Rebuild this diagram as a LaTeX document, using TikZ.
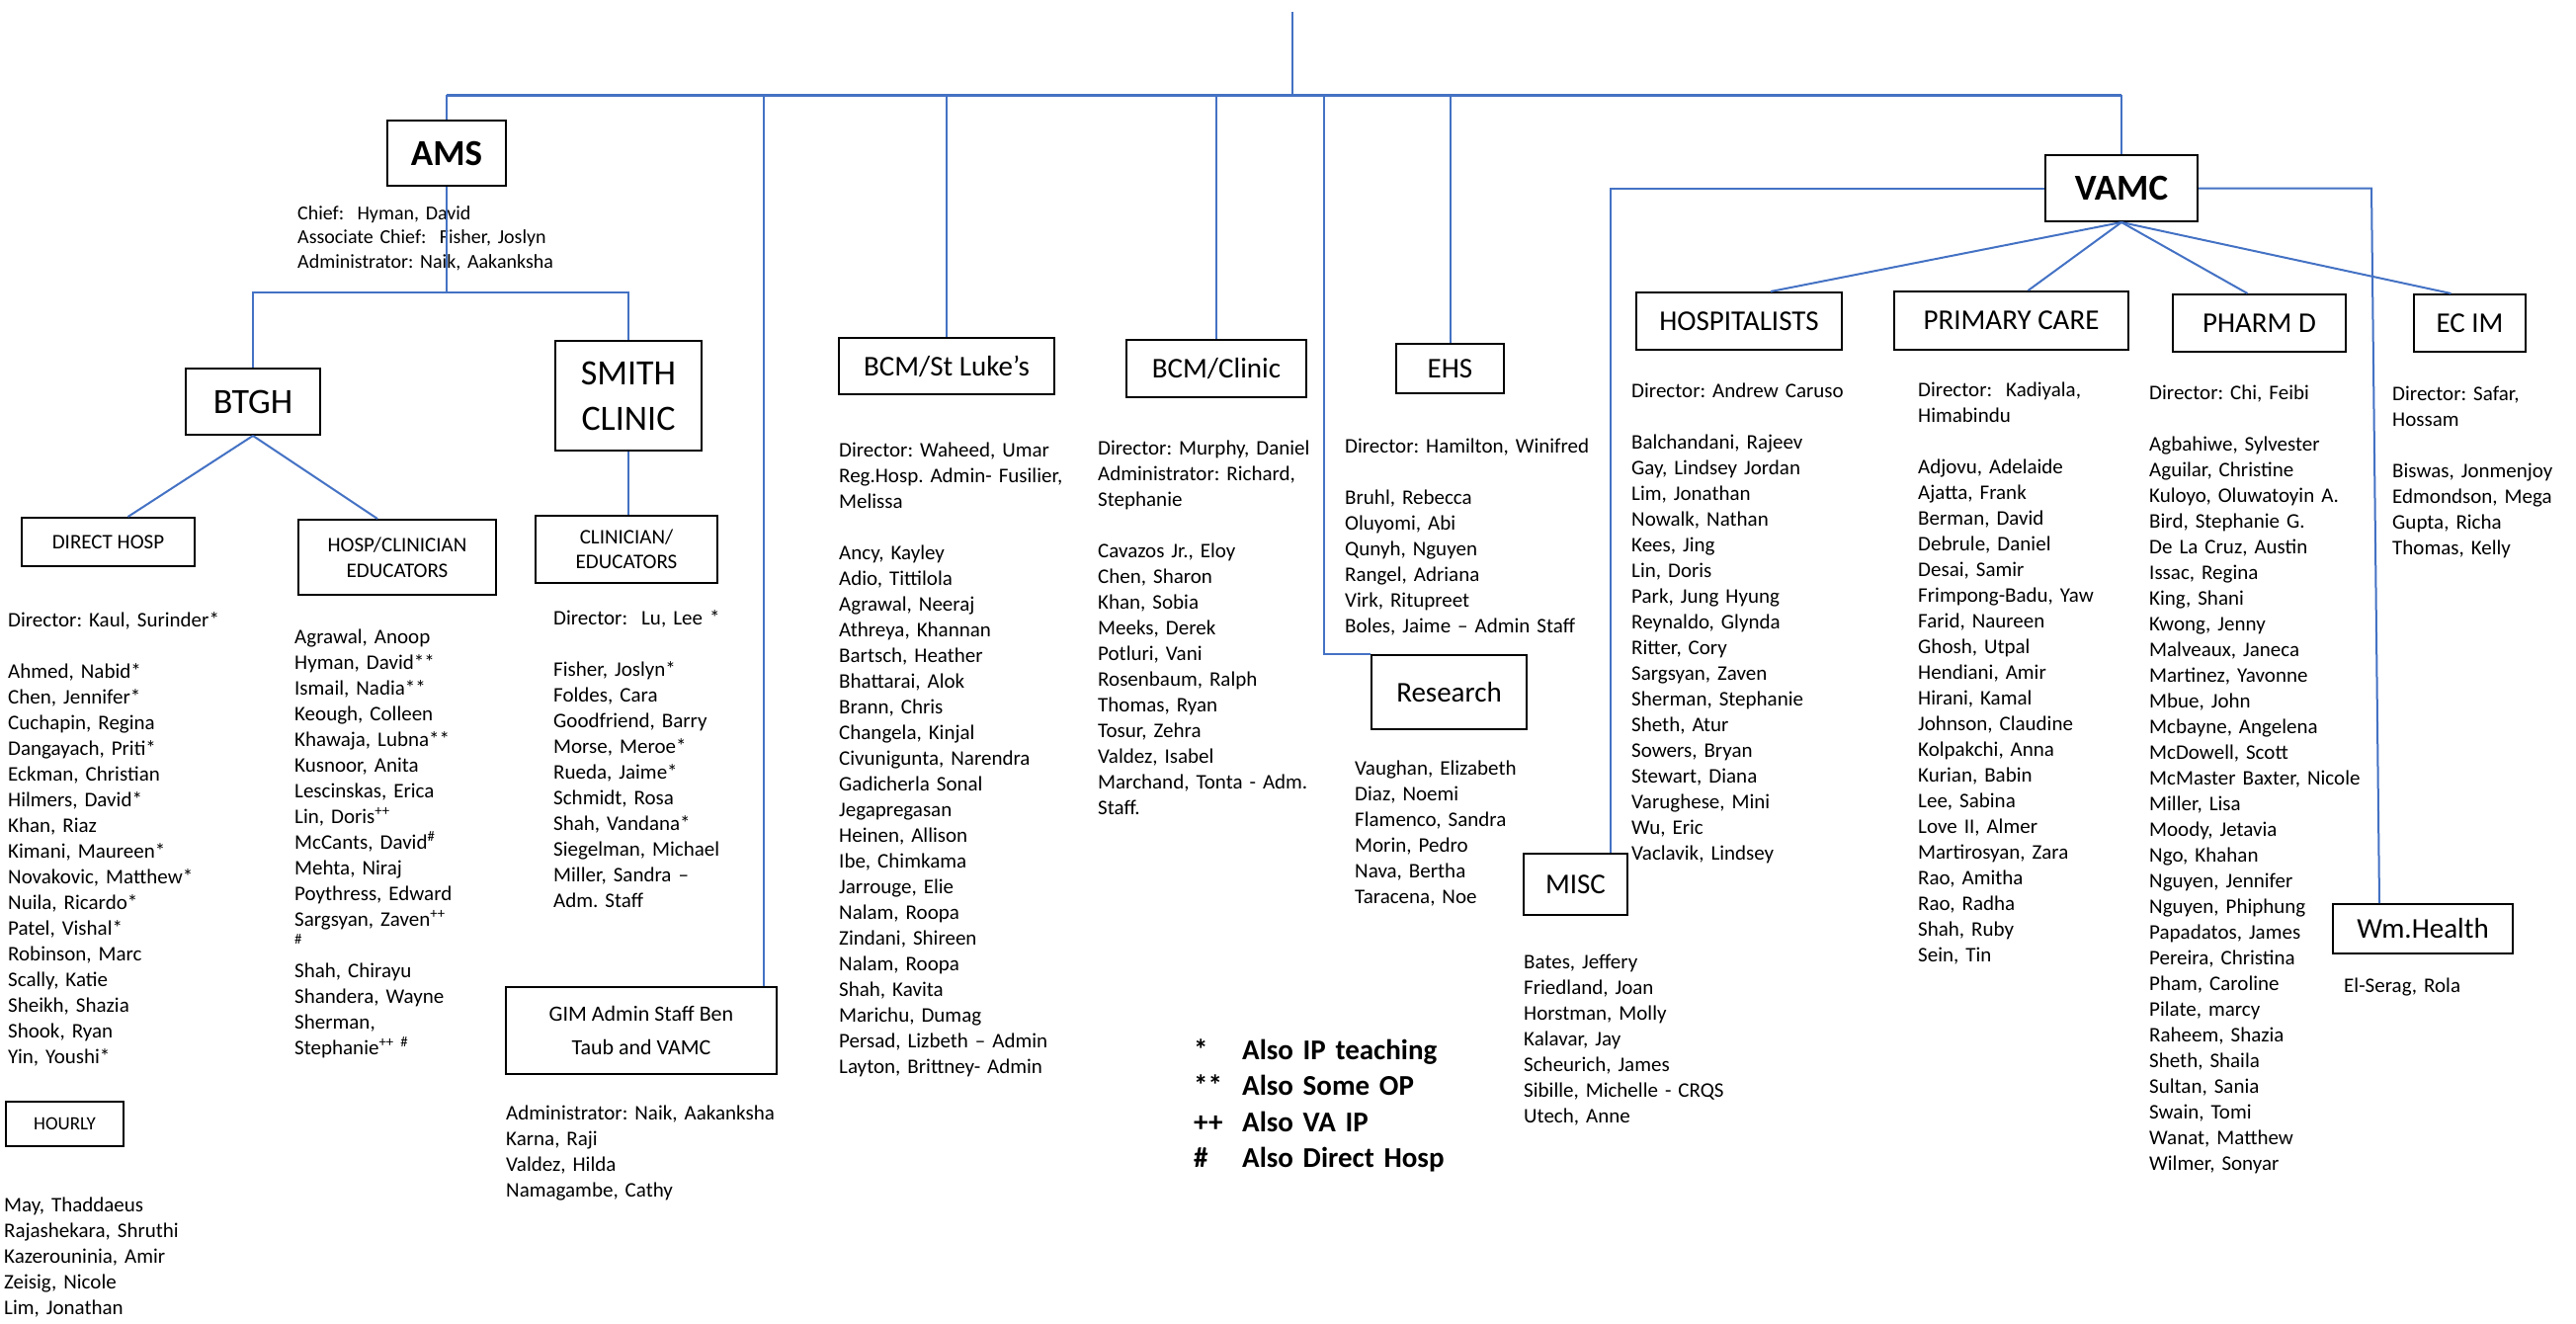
\documentclass[tikz,border=0pt]{standalone}
\usepackage{fontspec}
\setmainfont{Carlito}
\frenchspacing

\definecolor{linkblue}{RGB}{68,114,196}

\tikzset{
  unitbox/.style={rectangle, draw=black, line width=2pt, inner sep=2pt, align=center},
  link/.style={draw=linkblue, line width=2pt},
  toprail/.style={draw=linkblue, line width=3pt},
  namelist/.style={anchor=base west, inner sep=0pt, text width=330pt, align=left,
      font=\fontsize{21}{26}\selectfont},
  bigname/.style={font=\fontsize{29}{34}\selectfont},
  smallname/.style={font=\fontsize{21}{26}\selectfont},
}

\begin{document}
\begin{tikzpicture}[x=1pt, y=-1pt]
\useasboundingbox (0,0) rectangle (2607,1339);

% top of the chart
\coordinate (top) at (1308,12);
\coordinate (rail) at (0,96);
\coordinate (resx) at (1340,96);

% AMS side
\node[unitbox,
    font = \fontsize{37}{40}\selectfont\bfseries,
    minimum width = 120pt,
    minimum height = 66pt] (ams) at (452,155) {AMS};

\node[anchor = base west,
    inner sep = 0pt,
    align = left,
    text width = 300pt,
    font = \fontsize{20}{24.5}\selectfont] (amslead) at (301,222)
    {Chief:\ \ Hyman, David\\Associate Chief:\ \ Fisher, Joslyn\\Administrator: Naik, Aakanksha};

\coordinate (amsfork) at (452,296);

\node[unitbox,
    font = \fontsize{36}{40}\selectfont,
    minimum width = 136pt,
    minimum height = 67pt] (btgh) at (256,406.5) {BTGH};

\node[unitbox,
    font = \fontsize{36}{46}\selectfont,
    minimum width = 148pt,
    minimum height = 111pt] (smith) at (636,400.5) {SMITH\\CLINIC};

\node[unitbox, smallname,
    minimum width = 175pt,
    minimum height = 49pt] (directhosp) at (109.5,548.5) {DIRECT HOSP};

\node[unitbox, smallname,
    minimum width = 200pt,
    minimum height = 76pt] (hospclin) at (402,564) {HOSP/CLINICIAN\\EDUCATORS};

\node[unitbox,
    font = \fontsize{19}{23}\selectfont,
    minimum width = 119pt,
    minimum height = 45pt] (hourly) at (65.5,1137.5) {HOURLY};

\node[unitbox,
    font = \fontsize{21}{25}\selectfont,
    minimum width = 184pt,
    minimum height = 68pt] (clined) at (634,556) {CLINICIAN/\\EDUCATORS};

\node[unitbox,
    font = \fontsize{22}{34}\selectfont,
    minimum width = 274pt,
    minimum height = 88pt] (gim) at (649,1043) {GIM Admin Staff Ben\\Taub and VAMC};

% lists under BTGH and Smith
\node[namelist] (directlist) at (8,634)
    {Director: Kaul, Surinder*\\[26pt]
     Ahmed, Nabid*\\Chen, Jennifer*\\Cuchapin, Regina\\Dangayach, Priti*\\
     Eckman, Christian\\Hilmers, David*\\Khan, Riaz\\Kimani, Maureen*\\
     Novakovic, Matthew*\\Nuila, Ricardo*\\Patel, Vishal*\\Robinson, Marc\\
     Scally, Katie\\Sheikh, Shazia\\Shook, Ryan\\Yin, Youshi*};

\node[namelist] (hourlylist) at (4,1226)
    {May, Thaddaeus\\Rajashekara, Shruthi\\Kazerouninia, Amir\\Zeisig, Nicole\\Lim, Jonathan};

\node[namelist] (hospclinlist) at (298,651)
    {Agrawal, Anoop\\Hyman, David**\\Ismail, Nadia**\\Keough, Colleen\\
     Khawaja, Lubna**\\Kusnoor, Anita\\Lescinskas, Erica\\Lin, Doris\textsuperscript{++}\\
     McCants, David\textsuperscript{\#}\\Mehta, Niraj\\Poythress, Edward\\
     Sargsyan, Zaven\textsuperscript{++}\\\textsuperscript{\#}\\
     Shah, Chirayu\\Shandera, Wayne\\Sherman,\\Stephanie\textsuperscript{++ \#}};

\node[namelist] (smithlist) at (560,632)
    {Director:\ \ Lu, Lee *\\[26pt]
     Fisher, Joslyn*\\Foldes, Cara\\Goodfriend, Barry\\Morse, Meroe*\\
     Rueda, Jaime*\\Schmidt, Rosa\\Shah, Vandana*\\Siegelman, Michael\\
     Miller, Sandra --\\Adm. Staff};

\node[namelist] (gimlist) at (512,1133)
    {Administrator: Naik, Aakanksha\\Karna, Raji\\Valdez, Hilda\\Namagambe, Cathy};

% BCM, EHS and research
\node[unitbox, bigname,
    minimum width = 218pt,
    minimum height = 57pt] (bcmsl) at (958,370.5) {BCM/St Luke’s};

\node[unitbox, bigname,
    minimum width = 182pt,
    minimum height = 58pt] (bcmclinic) at (1231,373) {BCM/Clinic};

\node[unitbox, bigname,
    minimum width = 109pt,
    minimum height = 50pt] (ehs) at (1467.5,373) {EHS};

\node[unitbox, bigname,
    minimum width = 157pt,
    minimum height = 75pt] (research) at (1466.5,700.5) {Research};

\node[namelist] (bcmsllist) at (849,462)
    {Director: Waheed, Umar\\Reg.Hosp. Admin- Fusilier,\\Melissa\\[26pt]
     Ancy, Kayley\\Adio, Tittilola\\Agrawal, Neeraj\\Athreya, Khannan\\
     Bartsch, Heather\\Bhattarai, Alok\\Brann, Chris\\Changela, Kinjal\\
     Civunigunta, Narendra\\Gadicherla Sonal\\Jegapregasan\\Heinen, Allison\\
     Ibe, Chimkama\\Jarrouge, Elie\\Nalam, Roopa\\Zindani, Shireen\\
     Nalam, Roopa\\Shah, Kavita\\Marichu, Dumag\\Persad, Lizbeth -- Admin\\
     Layton, Brittney- Admin};

\node[namelist] (bcmclist) at (1111,460)
    {Director: Murphy, Daniel\\Administrator: Richard,\\Stephanie\\[26pt]
     Cavazos Jr., Eloy\\Chen, Sharon\\Khan, Sobia\\Meeks, Derek\\Potluri, Vani\\
     Rosenbaum, Ralph\\Thomas, Ryan\\Tosur, Zehra\\Valdez, Isabel\\
     Marchand, Tonta - Adm.\\Staff.};

\node[namelist] (ehslist) at (1361,458)
    {Director: Hamilton, Winifred\\[26pt]
     Bruhl, Rebecca\\Oluyomi, Abi\\Qunyh, Nguyen\\Rangel, Adriana\\
     Virk, Ritupreet\\Boles, Jaime -- Admin Staff};

\node[namelist] (reslist) at (1371,784)
    {Vaughan, Elizabeth\\Diaz, Noemi\\Flamenco, Sandra\\Morin, Pedro\\
     Nava, Bertha\\Taracena, Noe};

% VAMC side
\node[unitbox,
    font = \fontsize{37}{40}\selectfont\bfseries,
    minimum width = 154pt,
    minimum height = 67pt] (vamc) at (2147,190.5) {VAMC};

\node[unitbox, bigname,
    minimum width = 208pt,
    minimum height = 58pt] (hospitalists) at (1760,325) {HOSPITALISTS};

\node[unitbox, bigname,
    minimum width = 237pt,
    minimum height = 59pt] (primary) at (2035.5,324.5) {PRIMARY CARE};

\node[unitbox, bigname,
    minimum width = 175pt,
    minimum height = 58pt] (pharmd) at (2286.5,327) {PHARM D};

\node[unitbox, bigname,
    minimum width = 113pt,
    minimum height = 58pt] (ecim) at (2499.5,327) {EC IM};

\node[unitbox, bigname,
    minimum width = 105pt,
    minimum height = 62pt] (misc) at (1594.5,895) {MISC};

\node[unitbox, bigname,
    minimum width = 182pt,
    minimum height = 50pt] (wmhealth) at (2452,940) {Wm.Health};

\node[namelist] (hosplist) at (1651,402)
    {Director: Andrew Caruso\\[26pt]
     Balchandani, Rajeev\\Gay, Lindsey Jordan\\Lim, Jonathan\\Nowalk, Nathan\\
     Kees, Jing\\Lin, Doris\\Park, Jung Hyung\\Reynaldo, Glynda\\Ritter, Cory\\
     Sargsyan, Zaven\\Sherman, Stephanie\\Sheth, Atur\\Sowers, Bryan\\
     Stewart, Diana\\Varughese, Mini\\Wu, Eric\\Vaclavik, Lindsey};

\node[namelist] (primlist) at (1941,401)
    {Director:\ \ Kadiyala,\\Himabindu\\[26pt]
     Adjovu, Adelaide\\Ajatta, Frank\\Berman, David\\Debrule, Daniel\\
     Desai, Samir\\Frimpong-Badu, Yaw\\Farid, Naureen\\Ghosh, Utpal\\
     Hendiani, Amir\\Hirani, Kamal\\Johnson, Claudine\\Kolpakchi, Anna\\
     Kurian, Babin\\Lee, Sabina\\Love II, Almer\\Martirosyan, Zara\\
     Rao, Amitha\\Rao, Radha\\Shah, Ruby\\Sein, Tin};

\node[namelist] (pharmlist) at (2175,404)
    {Director: Chi, Feibi\\[26pt]
     Agbahiwe, Sylvester\\Aguilar, Christine\\Kuloyo, Oluwatoyin A.\\
     Bird, Stephanie G.\\De La Cruz, Austin\\Issac, Regina\\King, Shani\\
     Kwong, Jenny\\Malveaux, Janeca\\Martinez, Yavonne\\Mbue, John\\
     Mcbayne, Angelena\\McDowell, Scott\\McMaster Baxter, Nicole\\
     Miller, Lisa\\Moody, Jetavia\\Ngo, Khahan\\Nguyen, Jennifer\\
     Nguyen, Phiphung\\Papadatos, James\\Pereira, Christina\\Pham, Caroline\\
     Pilate, marcy\\Raheem, Shazia\\Sheth, Shaila\\Sultan, Sania\\
     Swain, Tomi\\Wanat, Matthew\\Wilmer, Sonyar};

\node[namelist] (ecimlist) at (2421,405)
    {Director: Safar,\\Hossam\\[26pt]
     Biswas, Jonmenjoy\\Edmondson, Mega\\Gupta, Richa\\Thomas, Kelly};

\node[namelist] (misclist) at (1542,980)
    {Bates, Jeffery\\Friedland, Joan\\Horstman, Molly\\Kalavar, Jay\\
     Scheurich, James\\Sibille, Michelle - CRQS\\Utech, Anne};

\node[namelist] (wmlist) at (2372,1004) {El-Serag, Rola};

% key to the marks
\node[anchor = base west,
    inner sep = 0pt,
    align = left,
    text width = 400pt,
    font = \fontsize{29}{36.5}\selectfont\bfseries] (legend) at (1208,1072)
    {\makebox[49pt][l]{*}Also IP teaching\\
     \makebox[49pt][l]{**}Also Some OP\\
     \makebox[49pt][l]{++}Also VA IP\\
     \makebox[49pt][l]{\#}Also Direct Hosp};

% connectors
\draw[link] (top) -- (top |- rail);
\draw[toprail] (ams.north |- rail) -- (vamc.north |- rail);
\draw[link] (ams.north |- rail) -- (ams.north);
\draw[link] ([xshift=124pt]gim.north) -- ([xshift=124pt]gim.north |- rail);
\draw[link] (bcmsl.north |- rail) -- (bcmsl.north);
\draw[link] (bcmclinic.north |- rail) -- (bcmclinic.north);
\draw[link] (ehs.north |- rail) -- (ehs.north);
\draw[link] (resx) |- (research.north west);
\draw[link] (vamc.north |- rail) -- (vamc.north);

\draw[link] (ams.south) -- (amsfork);
\draw[link] (btgh.north) |- (amsfork) -| (smith.north);
\draw[link] (btgh.south) -- ([xshift=20pt]directhosp.north);
\draw[link] (btgh.south) -- ([xshift=-20pt]hospclin.north);
\draw[link] (smith.south) -- (smith.south |- clined.north);

\coordinate (wmbend) at (2400,190.5);
\draw[link] (vamc.west) -| ([xshift=35pt]misc.north);
\draw[link] (vamc.east) -- (wmbend) -- ([xshift=-44pt]wmhealth.north);
\draw[link] (vamc.south) -- ([xshift=32pt]hospitalists.north);
\draw[link] (vamc.south) -- ([xshift=17pt]primary.north);
\draw[link] (vamc.south) -- ([xshift=-12pt]pharmd.north);
\draw[link] (vamc.south) -- ([xshift=-19pt]ecim.north);

\end{tikzpicture}
\end{document}
